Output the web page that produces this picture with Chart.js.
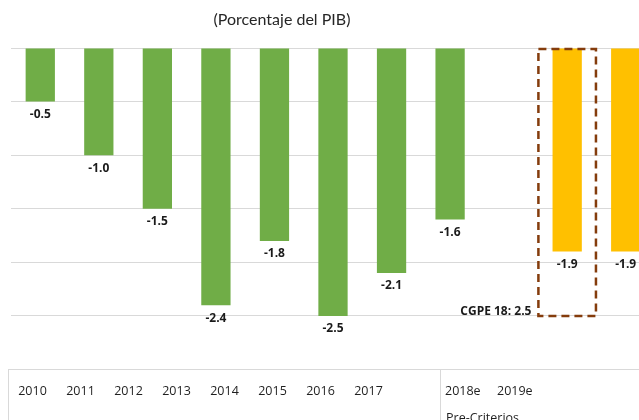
<!DOCTYPE html>
<html>
<head>
<meta charset="utf-8">
<script src="https://cdn.jsdelivr.net/npm/chart.js@4"></script>
<style>
  html, body { margin: 0; padding: 0; background: #fff; overflow: hidden; }
  #wrap { position: relative; width: 656px; height: 420px; }
  #title {
    position: absolute; left: 0; top: 9px; width: 564px; text-align: center;
    font-family: Lato, sans-serif; font-size: 16px; color: #262626;
  }
</style>
</head>
<body>
<div id="wrap">
  <div id="title">(Porcentaje del PIB)</div>
  <canvas id="chart" width="656" height="420"></canvas>
</div>
<script>
// balance, porcentaje del PIB
const categories = ["2010", "2011", "2012", "2013", "2014", "2015", "2016", "2017", "", "2018e", "2019e"];
const balance = [-0.5, -1.0, -1.5, -2.4, -1.8, -2.5, -2.1, -1.6, null, -1.9, -1.9];
const isEstimate = [false, false, false, false, false, false, false, false, false, true, true];

// bottom label table
const yearLabels = ["2010", "2011", "2012", "2013", "2014", "2015", "2016", "2017"];
const estLabels = ["2018e", "2019e"];
const groupLabel = "Pre-Criterios";

// CGPE 18 reference box around 2018e
const cgpeIndex = 9;
const cgpeValue = -2.5;
const cgpeLabel = "CGPE 18: 2.5";

const green = "#70AD47";
const gold = "#FFC000";

// value labels under each bar
const valueLabels = {
  id: "valueLabels",
  afterDatasetsDraw(chart) {
    const ctx = chart.ctx;
    const meta = chart.getDatasetMeta(0);
    ctx.save();
    ctx.font = "bold 12px 'Open Sans', sans-serif";
    ctx.fillStyle = "#1a1a1a";
    ctx.textAlign = "center";
    ctx.textBaseline = "middle";
    meta.data.forEach((bar, i) => {
      const v = balance[i];
      if (v === null) return;
      ctx.fillText(v.toFixed(1), bar.x, bar.y + 13);
    });
    ctx.restore();
  }
};

// dashed box for the CGPE estimate
const cgpeBox = {
  id: "cgpeBox",
  afterDatasetsDraw(chart) {
    const { ctx, scales } = chart;
    const step = scales.x.getPixelForValue(1) - scales.x.getPixelForValue(0);
    const cx = scales.x.getPixelForValue(cgpeIndex);
    const left = cx - step / 2 + 0.5;
    const right = cx + step / 2 - 0.5;
    const top = scales.y.getPixelForValue(0) + 1;
    const bottom = scales.y.getPixelForValue(cgpeValue);
    ctx.save();
    ctx.strokeStyle = "#843C0C";
    ctx.lineWidth = 2.5;
    ctx.setLineDash([8, 5]);
    ctx.strokeRect(left, top, right - left, bottom - top);
    ctx.setLineDash([]);
    ctx.font = "bold 12px 'Open Sans', sans-serif";
    ctx.fillStyle = "#1a1a1a";
    ctx.textAlign = "right";
    ctx.textBaseline = "middle";
    ctx.fillText(cgpeLabel, left - 7, bottom - 4);
    ctx.restore();
  }
};

// bottom category table
const bottomTable = {
  id: "bottomTable",
  afterDraw(chart) {
    const { ctx, chartArea } = chart;
    const lineY = 369.5;
    ctx.save();
    ctx.strokeStyle = "#d9d9d9";
    ctx.lineWidth = 1;
    ctx.beginPath();
    ctx.moveTo(8, lineY);
    ctx.lineTo(chartArea.right, lineY);
    ctx.moveTo(8.5, lineY);
    ctx.lineTo(8.5, 420);
    ctx.moveTo(440.5, lineY);
    ctx.lineTo(440.5, 420);
    ctx.stroke();
    ctx.font = "12.5px 'Open Sans', sans-serif";
    ctx.fillStyle = "#1f1f1f";
    ctx.textAlign = "center";
    ctx.textBaseline = "alphabetic";
    yearLabels.forEach((t, i) => ctx.fillText(t, 32.5 + i * 48, 394.5));
    ctx.textAlign = "left";
    estLabels.forEach((t, i) => ctx.fillText(t, 445 + i * 52, 394.5));
    ctx.fillText(groupLabel, 446, 422);
    ctx.restore();
  }
};

new Chart(document.getElementById("chart"), {
  type: "bar",
  data: {
    labels: categories,
    datasets: [{
      data: balance,
      backgroundColor: isEstimate.map((e) => (e ? gold : green)),
      borderWidth: 0,
      barPercentage: 0.5,
      categoryPercentage: 1.0
    }]
  },
  options: {
    responsive: false,
    animation: false,
    layout: { padding: { left: 11, right: 1, top: 48, bottom: 50.5 } },
    plugins: {
      legend: { display: false },
      title: { display: false },
      tooltip: { enabled: false }
    },
    scales: {
      x: { display: false },
      y: {
        min: -3,
        max: 0,
        ticks: { display: false, stepSize: 0.5 },
        grid: { color: "#d9d9d9", drawTicks: false },
        border: { display: false }
      }
    }
  },
  plugins: [valueLabels, cgpeBox, bottomTable]
});
</script>
</body>
</html>
